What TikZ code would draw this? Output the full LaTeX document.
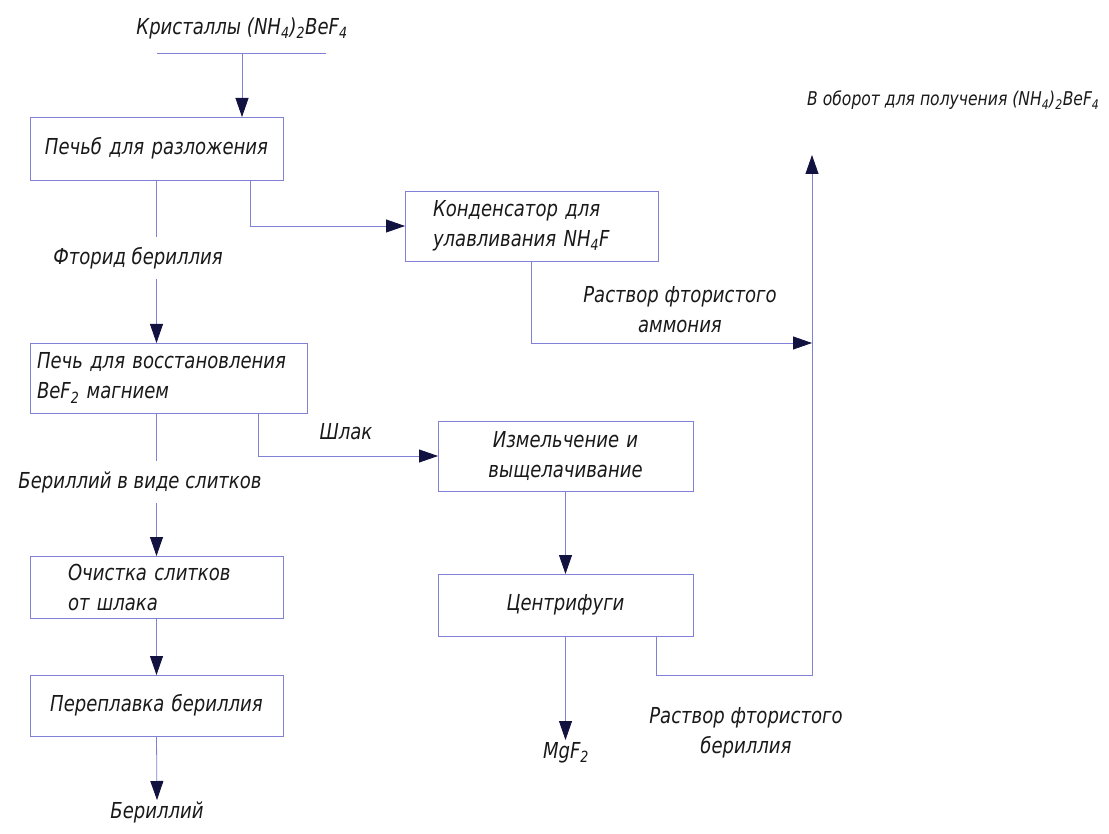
\documentclass[tikz,border=0pt]{standalone}
\usepackage{fontspec}
\setmainfont{DejaVu Sans}[FakeStretch=0.82]
\usetikzlibrary{arrows.meta}
\definecolor{linec}{RGB}{128,128,215}
\definecolor{tipc}{RGB}{18,18,64}
\def\sub#1{\textsubscript{#1}}

\begin{document}
\begin{tikzpicture}[x=1pt,y=-1pt,
    txt/.style={font=\itshape\fontsize{22}{30}\selectfont,text=black!90},
    box/.style={txt,draw=linec,line width=0.8pt,anchor=north west,outer sep=0pt,inner ysep=0pt,align=left},
    lbl/.style={txt,inner sep=2pt,align=center},
    line/.style={draw=linec,line width=0.8pt},
    flow/.style={line,-{Triangle[length=19pt,width=13pt,color=tipc]}}]
  \useasboundingbox (0,0) rectangle (1109,834);

  % left column
  \node[lbl] (kristally) at (242,28) {Кристаллы (NH\sub{4})\sub{2}BeF\sub{4}};
  \coordinate (inL) at (157,53); \coordinate (inR) at (326,53); \coordinate (in) at (242,53);
  \draw[line] (inL) -- (inR);
  \node[box,text width=223pt,inner xsep=15pt,minimum height=63pt] (razl) at (30,117) {Печьб для разложения};
  \draw[flow] (in) -- (in |- razl.north);
  \node[lbl,inner ysep=10pt] (ftorid) at (138,258) {Фторид бериллия};
  \draw[line] (razl.south) -- (ftorid.north -| razl.south);
  \node[box,text width=263pt,inner xsep=7pt,minimum height=70pt] (vosst) at (30,343) {Печь для восстановления\\BeF\sub{2} магнием};
  \draw[flow] (ftorid.south -| razl.south) -- (vosst.north -| razl.south);
  \node[lbl,inner ysep=10pt] (slitki) at (140,482) {Бериллий в виде слитков};
  \draw[line] (vosst.south -| razl.south) -- (slitki.north -| razl.south);
  \node[box,text width=177pt,inner xsep=38pt,minimum height=62pt] (ochist) at (30,556) {Очистка слитков\\от шлака};
  \draw[flow] (slitki.south -| razl.south) -- (ochist.north);
  \node[box,text width=243pt,inner xsep=5pt,minimum height=61pt,align=center] (perepl) at (30,675) {Переплавка бериллия};
  \draw[flow] (ochist.south) -- (perepl.north);
  \node[lbl,anchor=north] (berill) at (157,800) {Бериллий};
  \draw[flow] (perepl.south) -- (berill.north);

  % ammonium fluoride branch
  \node[box,text width=197pt,inner xsep=28pt,minimum height=70pt] (kond) at (405,191) {Конденсатор для\\улавливания NH\sub{4}F};
  \draw[flow] ([xshift=-33pt]razl.south east) |- (kond.west);
  \node[lbl] (rastvorA) at (680,310) {Раствор фтористого\\аммония};
  \coordinate (jA) at (812,343);
  \draw[flow] (kond.south) |- (jA);

  % slag branch
  \node[box,text width=245pt,inner xsep=5pt,minimum height=70pt,align=center] (izmel) at (438,421) {Измельчение и\\выщелачивание};
  \node[lbl] (shlak) at (346,432) {Шлак};
  \draw[flow] ([xshift=-49pt]vosst.south east) |- (izmel.west);
  \node[box,text width=245pt,inner xsep=5pt,minimum height=62pt,align=center] (centr) at (438,574) {Центрифуги};
  \draw[flow] (izmel.south) -- (centr.north);
  \node[lbl,anchor=north] (mgf) at (566,740) {MgF\sub{2}};
  \draw[flow] (centr.south) -- (centr.south |- mgf.north);

  % return to the cycle
  \node[lbl] (rastvorB) at (746,733) {Раствор фтористого\\бериллия};
  \node[lbl,anchor=west,font=\itshape\fontsize{19}{24}\selectfont] (oborot) at (805,100) {В оборот для получения (NH\sub{4})\sub{2}BeF\sub{4}};
  \coordinate (oborotB) at (812,675); \coordinate (oborotT) at (812,155);
  \draw[flow] ([xshift=-37pt]centr.south east) |- (oborotB) -- (oborotT);
\end{tikzpicture}
\end{document}
